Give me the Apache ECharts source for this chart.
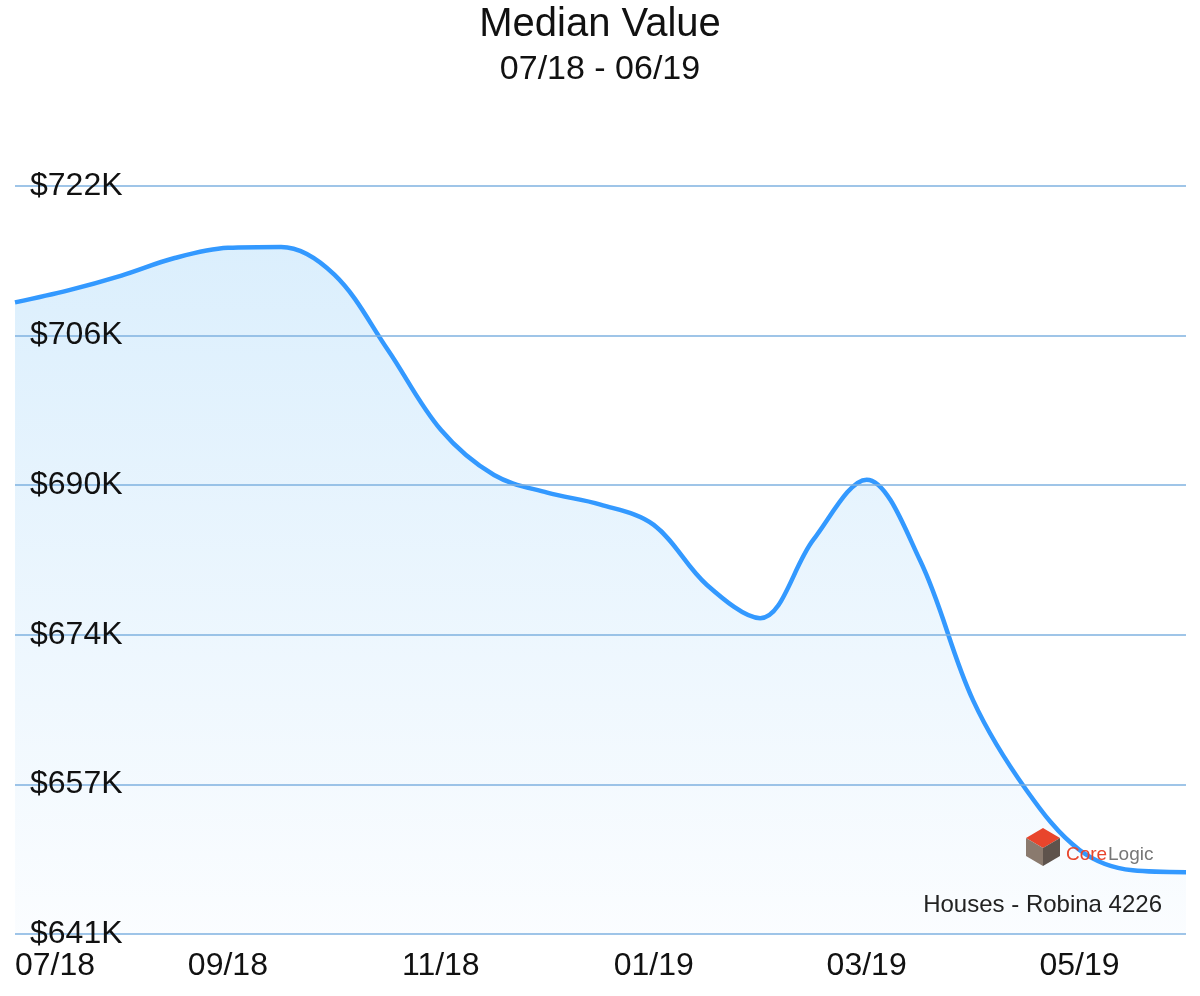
<!DOCTYPE html>
<html><head><meta charset="utf-8">
<script src="https://cdn.jsdelivr.net/npm/echarts@6/dist/echarts.min.js"></script>
<style>html,body{margin:0;padding:0;background:#fff}#c{width:1200px;height:996px}</style>
</head><body><div id="c"></div>
<script>
const categories = ['07/18','07/18b','08/18','08/18b','09/18','09/18b','10/18','10/18b','11/18','11/18b','12/18','12/18b','01/19','01/19b','02/19','02/19b','03/19','03/19b','04/19','04/19b','05/19','05/19b','06/19'];
const values = [709.4,710.7,712.3,714.2,715.3,715.4,712.4,704.3,695.6,690.7,688.8,687.5,685.3,678.8,675.2,683.7,690.2,681.5,666.3,656.6,650.1,647.9,647.7];
const yTickValues = [641,657.2,673.4,689.6,705.8,722];
const yTickLabels = ['$641K','$657K','$674K','$690K','$706K','$722K'];
const chart = echarts.init(document.getElementById('c'));
const F = 'Helvetica, "Liberation Sans", Arial, sans-serif';
chart.setOption({
  animation:false,
  title:{text:'Median Value',subtext:'07/18 - 06/19',left:'center',top:0,itemGap:8,
    textStyle:{fontFamily:F,fontSize:40,fontWeight:'normal',color:'#111'},
    subtextStyle:{fontFamily:F,fontSize:34,color:'#111'}},
  grid:{left:15,right:14,top:186,bottom:62},
  xAxis:{type:'category',data:categories,boundaryGap:false,
    axisLine:{show:false},axisTick:{show:false},
    axisLabel:{interval:3,fontFamily:F,fontSize:32,color:'#111',margin:16,alignMinLabel:'left',
      formatter:v=>v.replace('b','')}},
  yAxis:{type:'value',min:641,max:722,interval:16.2,z:10,
    axisLine:{show:false},axisTick:{show:false},
    splitLine:{lineStyle:{color:'#7fb2e0',width:1.5}},
    axisLabel:{inside:true,margin:15,fontFamily:F,fontSize:32,color:'#111',
      formatter:v=>{let b=0;yTickValues.forEach((t,i)=>{if(Math.abs(t-v)<Math.abs(yTickValues[b]-v))b=i;});return yTickLabels[b];}}},
  series:[{type:'line',data:values,smooth:0.35,symbol:'none',z:1,
    lineStyle:{color:'#3399ff',width:4.5},
    areaStyle:{color:new echarts.graphic.LinearGradient(0,0,0,1,[{offset:0,color:'#cbe7fb'},{offset:1,color:'#f8fbfe'}])}}],
  graphic:[
    {type:'text',right:38,top:893,z:100,style:{text:'Houses - Robina 4226',font:'24px '+F,fill:'#222'}},
    {type:'polygon',z:100,shape:{points:[[1043,828],[1060,838],[1043,848],[1026,838]]},style:{fill:'#e8452c'}},
    {type:'polygon',z:100,shape:{points:[[1026,838],[1043,848],[1043,866],[1026,856]]},style:{fill:'#8a7a6e'}},
    {type:'polygon',z:100,shape:{points:[[1043,848],[1060,838],[1060,856],[1043,866]]},style:{fill:'#5e534c'}},
    {type:'text',left:1066,top:845,z:100,style:{text:'Core',font:'19px '+F,fill:'#e8452c'}},
    {type:'text',left:1108,top:845,z:100,style:{text:'Logic',font:'19px '+F,fill:'#777'}}
  ]
});
</script></body></html>
